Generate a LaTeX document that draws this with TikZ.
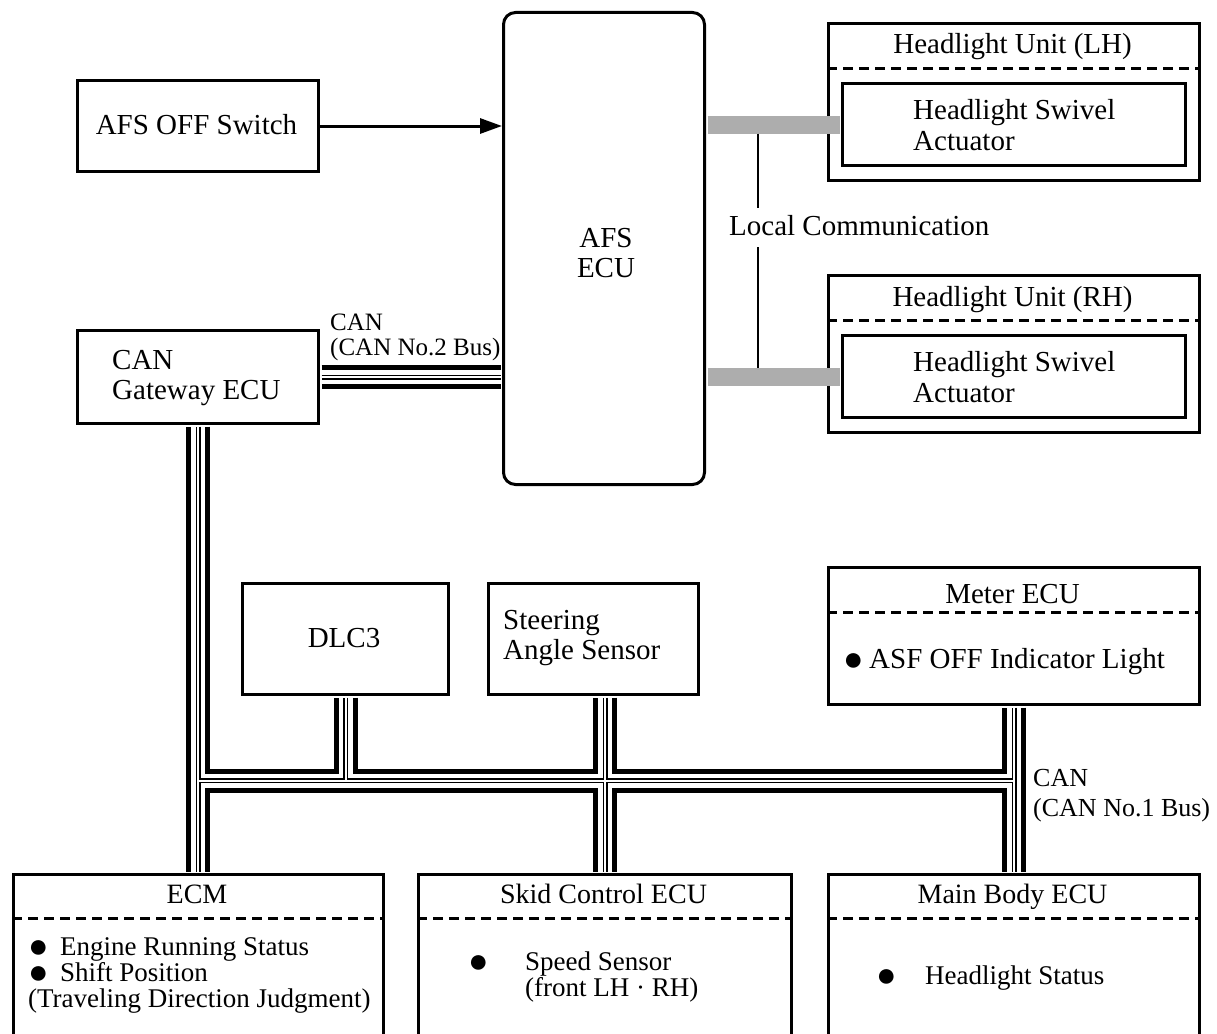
\documentclass[tikz,border=0pt]{standalone}
\usepackage{fontspec}
\setmainfont{Liberation Serif}
\usetikzlibrary{arrows.meta,calc}
\newcommand\myblt{\raisebox{-2pt}{\fontsize{34}{26}\selectfont ●}}
\begin{document}
\begin{tikzpicture}[x=1pt,y=-1pt,
  box/.style={draw,line width=3pt,inner sep=0pt,anchor=north west},
  sep/.style={line width=3pt,dash pattern=on 10pt off 6pt},
  big/.style={inner sep=0pt,font=\fontsize{29}{30}\selectfont},
  title/.style={inner sep=0pt,font=\fontsize{28}{30}\selectfont},
  mid/.style={inner sep=0pt,font=\fontsize{27}{26}\selectfont},
  small/.style={inner sep=0pt,font=\fontsize{25}{25}\selectfont},
  shadebar/.style={line width=18pt,black!32,shorten <=1.5pt,shorten >=1.5pt},
  thinline/.style={line width=1.5pt}
]
\useasboundingbox (0,0) rectangle (1217,1033);
\clip (0,0) rectangle (1217,1033);

% boxes
\node[box,minimum width=241pt,minimum height=91pt] (sw) at (76,79) {};
\node[box,rounded corners=12pt,minimum width=201pt,minimum height=472pt] (ecu) at (502,11) {};
\node[box,minimum width=371pt,minimum height=157pt] (lh) at (827,22) {};
\node[box,minimum width=343pt,minimum height=82pt] (lhin) at (841,82) {};
\node[box,minimum width=371pt,minimum height=157pt] (rh) at (827,274) {};
\node[box,minimum width=343pt,minimum height=82pt] (rhin) at (841,334) {};
\node[box,minimum width=241pt,minimum height=93pt] (gw) at (76,329) {};
\node[box,minimum width=206pt,minimum height=111pt] (dlc) at (241,582) {};
\node[box,minimum width=210pt,minimum height=111pt] (st) at (487,582) {};
\node[box,minimum width=371pt,minimum height=137pt] (meter) at (827,566) {};
\node[box,minimum width=370pt,minimum height=220pt] (ecm) at (12,873) {};
\node[box,minimum width=373pt,minimum height=220pt] (skid) at (417,873) {};
\node[box,minimum width=371pt,minimum height=220pt] (mb) at (827,873) {};

% dashed separators
\draw[sep] (lh.west |- 0,68) -- (lh.east |- 0,68);
\draw[sep] (rh.west |- 0,320) -- (rh.east |- 0,320);
\draw[sep] (meter.west |- 0,612) -- (meter.east |- 0,612);
\draw[sep] (ecm.west |- 0,918) -- (ecm.east |- 0,918);
\draw[sep] (skid.west |- 0,918) -- (skid.east |- 0,918);
\draw[sep] (mb.west |- 0,918) -- (mb.east |- 0,918);

% texts
\node[big,anchor=base] (swt) at (196.5,134) {AFS OFF Switch};
\node[big,align=center] (ecut) at (606,253) {AFS\\ECU};
\node[big,anchor=base] (lht) at (1012.5,54) {Headlight Unit (LH)};
\node[inner sep=0pt,font=\fontsize{29}{31}\selectfont,align=left,anchor=west] (lhint) at (913,124.6) {Headlight Swivel\\Actuator};
\node[big,anchor=base] (rht) at (1012.5,306) {Headlight Unit (RH)};
\node[inner sep=0pt,font=\fontsize{29}{31}\selectfont,align=left,anchor=west] (rhint) at (913,376.6) {Headlight Swivel\\Actuator};
\node[big,align=left,anchor=west] (gwt) at (112,378.4) {CAN\\Gateway ECU};
\node[big,anchor=base] (dlct) at (344,647) {DLC3};
\node[big,align=left,anchor=west] (stt) at (503,638.3) {Steering\\Angle Sensor};
\node[big,anchor=base] (mt) at (1012.5,603) {Meter ECU};
\node[big,anchor=base west] (mi) at (843,668) {\makebox[26pt][l]{\myblt}ASF OFF Indicator Light};
\node[title,anchor=base] (ecmt) at (197,903) {ECM};
\node[title,anchor=base] (skt) at (603.5,903) {Skid Control ECU};
\node[title,anchor=base] (mbt) at (1012.5,903) {Main Body ECU};
\node[mid,align=left,anchor=west] (ecmi) at (28,975.75) {\makebox[32pt][l]{\myblt}Engine Running Status\\\makebox[32pt][l]{\myblt}Shift Position\\(Traveling Direction Judgment)};
\node[mid,align=left,anchor=west] (ski) at (468,976.7) {\makebox[57pt][l]{\myblt}Speed Sensor\\\hspace*{57pt}(front LH · RH)};
\node[mid,anchor=base west] (mbi) at (876,984) {\makebox[49pt][l]{\myblt}Headlight Status};
\node[big,anchor=base west] (lc) at (729,235) {Local Communication};
\node[small,align=left,anchor=west] (can2) at (330,337.2) {CAN\\(CAN No.2 Bus)};
\node[inner sep=0pt,font=\fontsize{26}{30}\selectfont,align=left,anchor=west] (can1) at (1033,796) {CAN\\(CAN No.1 Bus)};

% AFS OFF switch arrow
\draw[line width=3pt,-{Triangle[length=22pt,width=15pt]}] (sw.east) -- (sw.east -| ecu.west);

% local communication
\draw[shadebar] (lhin.west -| ecu.east) -- (lhin.west);
\draw[shadebar] (rhin.west -| ecu.east) -- (rhin.west);
\coordinate (lcx) at (758,0);
\draw[thinline] ($(lhin.west -| lcx)+(0,9)$) -- ($(lc.north -| lcx)+(0,-7)$);
\draw[thinline] ($(lc.south -| lcx)+(0,12)$) -- ($(rhin.west -| lcx)+(0,-9)$);

% CAN buses
\coordinate (hy) at (0,780.5);
\foreach \w/\c in {24/black,14/white,5/black,2/white}{
  \draw[line width=\w pt,\c,shorten <=1.5pt,shorten >=1.5pt] (gw.east) -- (gw.east -| ecu.west);
  \draw[line width=\w pt,\c,shorten <=1.5pt,shorten >=1.5pt] (gw.south) -- (gw.south |- ecm.north);
  \draw[line width=\w pt,\c] (gw.south |- hy) -- (meter.south |- hy);
  \draw[line width=\w pt,\c,shorten <=1.5pt] (dlc.south) -- (dlc.south |- hy);
  \draw[line width=\w pt,\c,shorten <=1.5pt,shorten >=1.5pt] (st.south -| skid.north) -- (skid.north);
  \draw[line width=\w pt,\c,shorten <=1.5pt,shorten >=1.5pt] (meter.south) -- (meter.south |- mb.north);
}
\end{tikzpicture}
\end{document}
